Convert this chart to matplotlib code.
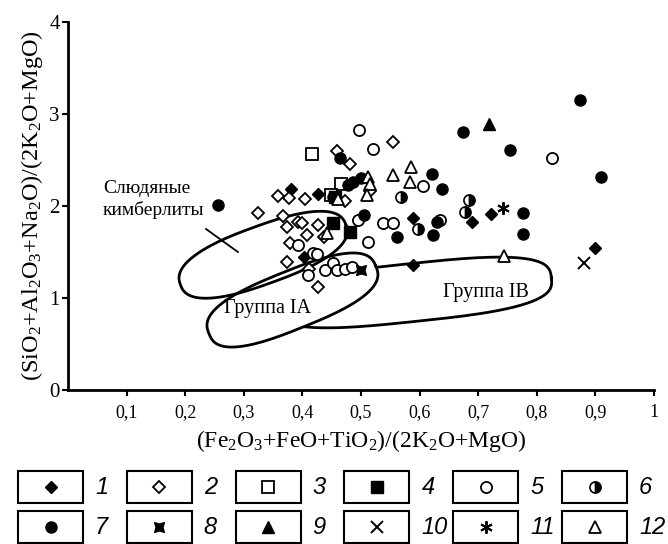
import numpy as np
import matplotlib
matplotlib.use('Agg')
import matplotlib.pyplot as plt
from matplotlib.path import Path
from matplotlib.patches import Rectangle

plt.rcParams['font.family'] = ['Liberation Serif', 'DejaVu Serif']
plt.rcParams['mathtext.fontset'] = 'custom'
plt.rcParams['mathtext.rm'] = 'Liberation Serif'
plt.rcParams['mathtext.it'] = 'Liberation Serif:italic'
plt.rcParams['mathtext.default'] = 'regular'

# --- data ---
g1_x = [0.38, 0.427, 0.402, 0.589, 0.69, 0.722, 0.589, 0.899]
g1_y = [2.18, 2.13, 1.45, 1.87, 1.83, 1.91, 1.36, 1.54]

g2_x = [0.459, 0.481, 0.555, 0.358, 0.377, 0.404, 0.325, 0.367, 0.374, 0.393, 0.400,
        0.427, 0.408, 0.437, 0.379, 0.373, 0.411, 0.427, 0.473, 0.515]
g2_y = [2.60, 2.46, 2.70, 2.11, 2.09, 2.08, 1.92, 1.89, 1.77, 1.83, 1.81,
        1.79, 1.68, 1.66, 1.60, 1.39, 1.32, 1.12, 2.05, 2.16]

g3_x = [0.416, 0.466, 0.448]
g3_y = [2.57, 2.24, 2.12]

g4_x = [0.452, 0.481, 0.455]
g4_y = [1.81, 1.72, 2.10]

g5_x = [0.497, 0.52, 0.826, 0.606, 0.495, 0.512, 0.537, 0.555, 0.635, 0.392, 0.418,
        0.425, 0.41, 0.439, 0.452, 0.459, 0.473, 0.485]
g5_y = [2.83, 2.62, 2.52, 2.22, 1.85, 1.61, 1.81, 1.81, 1.85, 1.58, 1.49,
        1.48, 1.25, 1.30, 1.38, 1.30, 1.32, 1.34]

g6_x = [0.568, 0.598, 0.685, 0.677]
g6_y = [2.10, 1.75, 2.07, 1.94]

g7_x = [0.256, 0.464, 0.478, 0.487, 0.50, 0.452, 0.505, 0.874, 0.674, 0.754, 0.91,
        0.622, 0.638, 0.776, 0.777, 0.629, 0.623, 0.561]
g7_y = [2.01, 2.52, 2.23, 2.26, 2.30, 2.10, 1.90, 3.15, 2.80, 2.61, 2.31,
        2.35, 2.19, 1.92, 1.70, 1.83, 1.69, 1.66]

g8_x = [0.50]
g8_y = [1.30]

g9_x = [0.718]
g9_y = [2.89]

g10_x = [0.88]
g10_y = [1.38]

g11_x = [0.742]
g11_y = [1.98]

g12_x = [0.512, 0.515, 0.51, 0.461, 0.555, 0.585, 0.584, 0.442, 0.744]
g12_y = [2.32, 2.24, 2.12, 2.08, 2.34, 2.42, 2.26, 1.71, 1.46]

labels = ['1', '2', '3', '4', '5', '6', '7', '8', '9', '10', '11', '12']

# square with pinched sides for group 8
star_sq = Path([(-1, -1), (0, -0.7), (1, -1), (0.7, 0), (1, 1), (0, 0.7),
                (-1, 1), (-0.7, 0), (-1, -1)],
               [Path.MOVETO] + [Path.LINETO] * 7 + [Path.CLOSEPOLY])

styles = [
    dict(marker='D', ms=6.5, mfc='black', mec='black'),
    dict(marker='D', ms=6.5, mfc='white', mec='black', mew=1.3),
    dict(marker='s', ms=8, mfc='white', mec='black', mew=1.3),
    dict(marker='s', ms=8, mfc='black', mec='black'),
    dict(marker='o', ms=8, mfc='white', mec='black', mew=1.3),
    dict(marker='o', ms=8, mfc='black', mec='black', fillstyle='right', markerfacecoloralt='white', mew=1.2),
    dict(marker='o', ms=8, mfc='black', mec='black'),
    dict(marker=star_sq, ms=7, mfc='black', mec='black'),
    dict(marker='^', ms=8.5, mfc='black', mec='black'),
    dict(marker='x', ms=8, mfc='black', mec='black', mew=1.4),
    dict(marker=(6, 2, 0), ms=9, mfc='black', mec='black', mew=1.4),
    dict(marker='^', ms=8.5, mfc='white', mec='black', mew=1.3),
]

xs = [g1_x, g2_x, g3_x, g4_x, g5_x, g6_x, g7_x, g8_x, g9_x, g10_x, g11_x, g12_x]
ys = [g1_y, g2_y, g3_y, g4_y, g5_y, g6_y, g7_y, g8_y, g9_y, g10_y, g11_y, g12_y]

W, H = 668, 544
AX_L, AX_B, AX_W, AX_H = 68, 390, 586, 368
SX, SY = AX_W / 1.0, AX_H / 4.0   # pixels per data unit

fig = plt.figure(figsize=(W / 100, H / 100), dpi=100)
ax = fig.add_axes([AX_L / W, 1 - AX_B / H, AX_W / W, AX_H / H])


def blob(cx, cy, a, b, ang, n):
    # rounded outline, sizes given in pixels, centre in data units
    t = np.linspace(0, 2 * np.pi, 400)
    c, s = np.cos(t), np.sin(t)
    u = a * np.sign(c) * np.abs(c) ** (2 / n)
    v = b * np.sign(s) * np.abs(s) ** (2 / n)
    r = np.radians(ang)
    px = u * np.cos(r) - v * np.sin(r)
    py = u * np.sin(r) + v * np.cos(r)
    return cx + px / SX, cy + py / SY


# group fields
bx, by = blob(0.589, 1.06, 139, 29, 6, 3)
ax.plot(bx, by, color='black', lw=2, zorder=2)
ax_, ay_ = blob(0.383, 0.978, 90, 29, 22, 2.7)
ax.fill(ax_, ay_, color='white', zorder=2.5)
ax.plot(ax_, ay_, color='black', lw=2, zorder=3)
mx, my = blob(0.333, 1.47, 88, 29, 20, 2.5)
ax.plot(mx, my, color='black', lw=2, zorder=3)
ax.plot([0.2355, 0.29], [1.75, 1.5], color='black', lw=1.3, zorder=3)

ax.text(0.06, 2.07, 'Слюдяные\nкимберлиты', fontsize=14, ha='left', va='center',
        linespacing=1.25, zorder=4)
ax.text(0.341, 0.89, 'Группа IA', fontsize=14.5, ha='center', va='center', zorder=4)
ax.text(0.713, 1.065, 'Группа IB', fontsize=14.5, ha='center', va='center', zorder=4)

for x, y, st in zip(xs, ys, styles):
    ax.plot(x, y, ls='none', zorder=5, **st)

ax.set_xlim(0, 1)
ax.set_ylim(0, 4)
ax.set_xticks(np.arange(1, 11) / 10)
ax.set_xticklabels(['0,1', '0,2', '0,3', '0,4', '0,5', '0,6', '0,7', '0,8', '0,9', '1'])
ax.set_yticks([0, 1, 2, 3, 4])
ax.tick_params(axis='x', labelsize=13, length=4, width=1.5, direction='out', pad=6)
ax.tick_params(axis='y', labelsize=15, length=4, width=1.5, direction='out', pad=2)
for sp in ['top', 'right']:
    ax.spines[sp].set_visible(False)
for sp in ['left', 'bottom']:
    ax.spines[sp].set_linewidth(2)

ax.set_xlabel(r'(Fe$_2$O$_3$+FeO+TiO$_2$)/(2K$_2$O+MgO)', fontsize=17, labelpad=5)
ax.set_ylabel(r'(SiO$_2$+Al$_2$O$_3$+Na$_2$O)/(2K$_2$O+MgO)', fontsize=17.5, labelpad=3)

# legend boxes drawn in pixel space
lax = fig.add_axes([0, 0, 1, 1])
lax.set_xlim(0, W)
lax.set_ylim(H, 0)
lax.axis('off')
for i, (lab, st) in enumerate(zip(labels, styles)):
    row, col = divmod(i, 6)
    x0 = 18 + 108.8 * col
    y0 = 471 + 40 * row
    lax.add_patch(Rectangle((x0, y0), 65, 32, fill=False, ec='black', lw=1.5))
    lax.plot(x0 + 32.5, y0 + 16, ls='none', **st)
    lax.text(x0 + 77, y0 + 17, lab, fontsize=17, style='italic', family='Liberation Sans',
             ha='left', va='center')

fig.savefig('out.png', dpi=100)
